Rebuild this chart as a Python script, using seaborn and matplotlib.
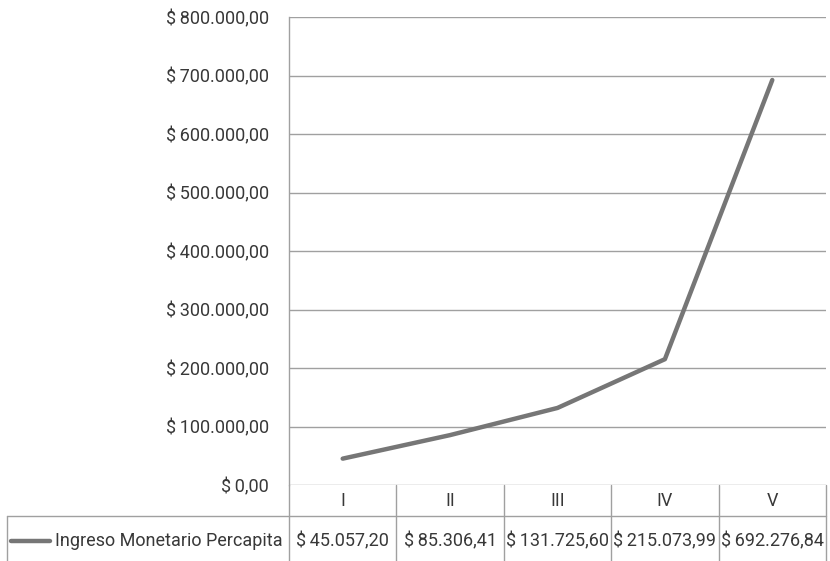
import matplotlib
matplotlib.use("Agg")
import matplotlib.pyplot as plt
import seaborn as sns
import pandas as pd
from matplotlib.lines import Line2D

sns.set_theme(style="white")
plt.rcParams['font.family'] = ['Roboto', 'DejaVu Sans']

categorias = ["I", "II", "III", "IV", "V"]
ingreso = [45057.20, 85306.41, 131725.60, 215073.99, 692276.84]
serie = "Ingreso Monetario Percapita"
y_ticks = [0, 100000, 200000, 300000, 400000, 500000, 600000, 700000, 800000]


def fmt_peso(v):
    s = f"{v:,.2f}".replace(",", "X").replace(".", ",").replace("X", ".")
    return "$\u2009" + s


df = pd.DataFrame({"pos": range(len(categorias)), "valor": ingreso})

W, H = 830, 561
fig = plt.figure(figsize=(W / 100, H / 100), dpi=100)
x0, x1, ytop, ybot = 289, 826, 17, 485
ax = fig.add_axes([x0 / W, (H - ybot) / H, (x1 - x0) / W, (ybot - ytop) / H])

grid_c = "#a0a0a0"
line_c = "#767676"
text_c = "#383838"
fs = 13

sns.lineplot(data=df, x="pos", y="valor", ax=ax, color=line_c, linewidth=3.2)
ax.set_xlim(-0.5, len(categorias) - 0.5)
ax.set_ylim(0, 800000)
ax.set_yticks(y_ticks)
ax.set_yticklabels([fmt_peso(t) for t in y_ticks], fontsize=fs, color=text_c)
ax.tick_params(axis="y", length=0, pad=14.5)
ax.set_xticks([])
ax.set_xlabel("")
ax.set_ylabel("")
for t in y_ticks[1:]:
    ax.axhline(t, color=grid_c, linewidth=1, zorder=0)
for s in ["top", "right", "bottom"]:
    ax.spines[s].set_visible(False)
ax.spines["left"].set_color(grid_c)
ax.spines["left"].set_linewidth(1)
ax.axhline(0, color=grid_c, linewidth=1, zorder=0)


# tabla de datos debajo del grafico (coordenadas de pixel -> figura)
def fx(px):
    return px / W


def fy(py):
    return (H - py) / H


def hline(xa, xb, py):
    fig.add_artist(Line2D([fx(xa), fx(xb)], [fy(py), fy(py)], color=grid_c, linewidth=1))


def vline(px, ya, yb):
    fig.add_artist(Line2D([fx(px), fx(px)], [fy(ya), fy(yb)], color=grid_c, linewidth=1))


row1, row2, row3 = 485, 516, 561
hline(7, x1, row2)
vline(7, row2, row3)
col_w = (x1 - x0) / len(categorias)
for i in range(len(categorias) + 1):
    vline(x0 + i * col_w, row1, row3)

for i, (c, v) in enumerate(zip(categorias, ingreso)):
    cx = x0 + (i + 0.5) * col_w
    fig.text(fx(cx), fy(501), c, ha="center", va="center",
             fontsize=fs, color=text_c)
    fig.text(fx(cx), fy(541), fmt_peso(v), ha="center", va="center",
             fontsize=fs, color=text_c)

fig.add_artist(Line2D([fx(11), fx(50)], [fy(541), fy(541)], color=line_c, linewidth=3.2))
fig.text(fx(283), fy(541), serie, ha="right", va="center", fontsize=fs, color=text_c)

fig.savefig("out.png", dpi=100, facecolor="white")
